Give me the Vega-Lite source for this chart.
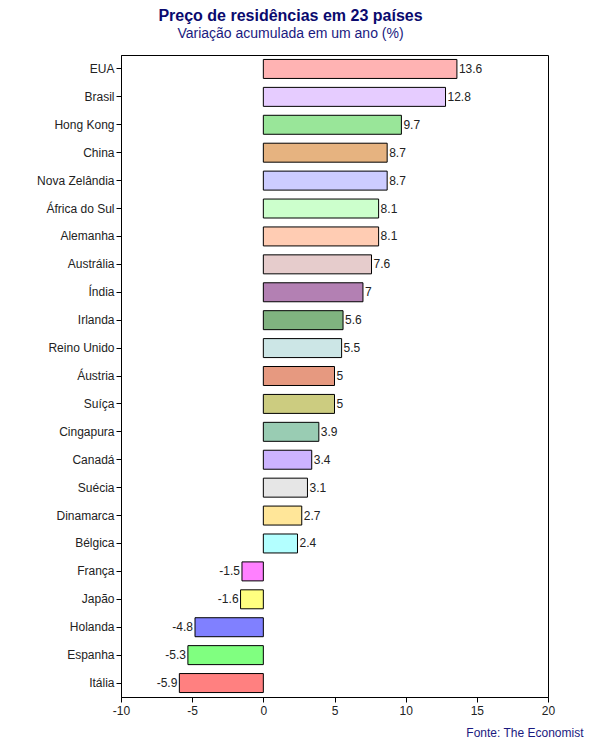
{
  "$schema": "https://vega.github.io/schema/vega-lite/v6.json",
  "width": 427,
  "height": 642,
  "autosize": {"type": "none"},
  "padding": {"left": 121, "top": 55, "right": 52, "bottom": 53},
  "background": "white",
  "title": {
    "text": "Preço de residências em 23 países",
    "subtitle": "Variação acumulada em um ano (%)",
    "anchor": "middle",
    "dx": -44,
    "offset": 14,
    "font": "Liberation Sans",
    "fontSize": 16,
    "fontWeight": "bold",
    "color": "#0a0a6e",
    "subtitleFont": "Liberation Sans",
    "subtitleFontSize": 14,
    "subtitleColor": "#1a1a80",
    "subtitlePadding": 3
  },
  "config": {
    "view": {"stroke": "black", "strokeWidth": 1},
    "font": "Liberation Sans",
    "locale": {
      "number": {"decimal": ".", "thousands": ",", "grouping": [3], "currency": ["$", ""], "minus": "-"}
    }
  },
  "data": {
    "values": [
      {"pais": "EUA", "valor": 13.6},
      {"pais": "Brasil", "valor": 12.8},
      {"pais": "Hong Kong", "valor": 9.7},
      {"pais": "China", "valor": 8.7},
      {"pais": "Nova Zelândia", "valor": 8.7},
      {"pais": "África do Sul", "valor": 8.1},
      {"pais": "Alemanha", "valor": 8.1},
      {"pais": "Austrália", "valor": 7.6},
      {"pais": "Índia", "valor": 7},
      {"pais": "Irlanda", "valor": 5.6},
      {"pais": "Reino Unido", "valor": 5.5},
      {"pais": "Áustria", "valor": 5},
      {"pais": "Suíça", "valor": 5},
      {"pais": "Cingapura", "valor": 3.9},
      {"pais": "Canadá", "valor": 3.4},
      {"pais": "Suécia", "valor": 3.1},
      {"pais": "Dinamarca", "valor": 2.7},
      {"pais": "Bélgica", "valor": 2.4},
      {"pais": "França", "valor": -1.5},
      {"pais": "Japão", "valor": -1.6},
      {"pais": "Holanda", "valor": -4.8},
      {"pais": "Espanha", "valor": -5.3},
      {"pais": "Itália", "valor": -5.9}
    ]
  },
  "encoding": {
    "y": {
      "field": "pais",
      "type": "nominal",
      "sort": ["EUA","Brasil","Hong Kong","China","Nova Zelândia","África do Sul","Alemanha","Austrália","Índia","Irlanda","Reino Unido","Áustria","Suíça","Cingapura","Canadá","Suécia","Dinamarca","Bélgica","França","Japão","Holanda","Espanha","Itália"],
      "scale": {"paddingInner": 0.32, "paddingOuter": 0.16},
      "axis": {
        "title": null,
        "domainColor": "black",
        "tickColor": "black",
        "tickSize": 5,
        "labelFontSize": 12,
        "labelColor": "#222222",
        "labelPadding": 2,
        "grid": false
      }
    }
  },
  "layer": [
    {
      "mark": {"type": "bar", "stroke": "black", "strokeWidth": 1},
      "encoding": {
        "x": {
          "field": "valor",
          "type": "quantitative",
          "scale": {"domain": [-10, 20], "nice": false},
          "axis": {
            "values": [-10, -5, 0, 5, 10, 15, 20],
            "grid": false,
            "labelFlush": false,
            "domainColor": "black",
            "tickColor": "black",
            "tickSize": 5,
            "labelFontSize": 12,
            "labelColor": "#222222",
            "labelPadding": 3,
            "title": "Fonte: The Economist",
            "titleFontWeight": "normal",
            "titleFontSize": 12,
            "titleColor": "#1a1a80",
            "titleAnchor": "end",
            "titleAlign": "right",
            "titleX": 462,
            "titleY": 42,
            "titleBaseline": "bottom"
          }
        },
        "x2": {"datum": 0},
        "color": {
          "field": "pais",
          "type": "nominal",
          "legend": null,
          "scale": {
            "domain": ["EUA","Brasil","Hong Kong","China","Nova Zelândia","África do Sul","Alemanha","Austrália","Índia","Irlanda","Reino Unido","Áustria","Suíça","Cingapura","Canadá","Suécia","Dinamarca","Bélgica","França","Japão","Holanda","Espanha","Itália"],
            "range": ["#FFB3B3","#E6CCFF","#99E699","#E6B380","#CCCCFF","#CCFFCC","#FFCCB3","#E6CCCC","#B380B3","#80B380","#CCE6E6","#E69980","#CCCC80","#99CCB3","#CCB3FF","#E6E6E6","#FFE699","#B3FFFF","#FF80FF","#FFFF80","#8080FF","#80FF80","#FF8080"]
          }
        }
      }
    },
    {
      "transform": [{"filter": "datum.valor >= 0"}],
      "mark": {"type": "text", "align": "left", "dx": 2, "fontSize": 12, "color": "#222222"},
      "encoding": {
        "x": {"field": "valor", "type": "quantitative"},
        "text": {"field": "valor", "type": "quantitative"}
      }
    },
    {
      "transform": [{"filter": "datum.valor < 0"}],
      "mark": {"type": "text", "align": "right", "dx": -2, "fontSize": 12, "color": "#222222"},
      "encoding": {
        "x": {"field": "valor", "type": "quantitative"},
        "text": {"field": "valor", "type": "quantitative"}
      }
    }
  ]
}
